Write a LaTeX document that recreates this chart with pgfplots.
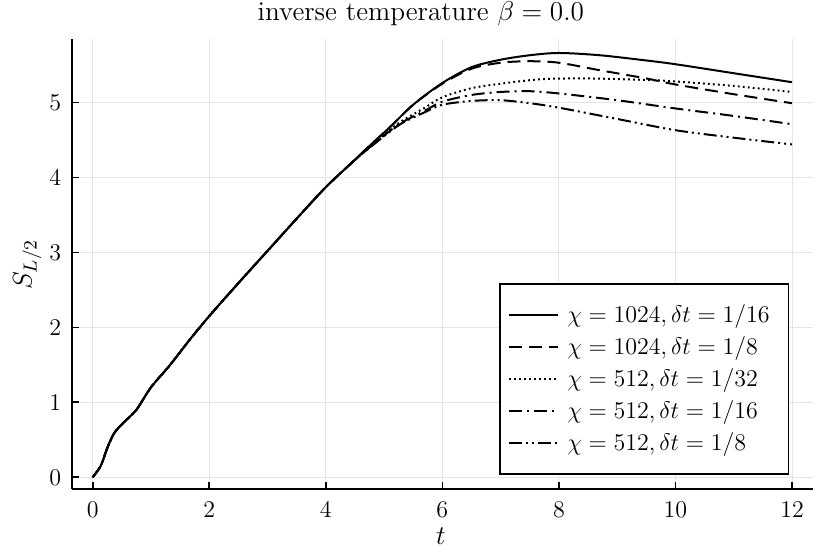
\RequirePackage{fix-cm}
\documentclass[border=0pt]{standalone}
\usepackage{pgfplots}
\pgfplotsset{compat=1.18}
\begin{document}
\begin{tikzpicture}
\begin{axis}[
  name=ax,
  scale only axis,
  width=370.65pt, height=224.9pt,
  xmin=-0.36, xmax=12.36, ymin=-0.16, ymax=5.84,
  axis x line*=bottom, axis y line*=left,
  axis line style={line width=0.85pt, black},
  xtick={0,2,4,6,8,10,12}, ytick={0,1,2,3,4,5},
  tick align=inside, major tick length=3.5pt,
  tick style={line width=0.85pt, black},
  grid=major, grid style={line width=0.5pt, black!10},
  tick label style={font=\fontsize{12}{14}\selectfont},
  xticklabel style={yshift=-2.9pt},
  yticklabel style={xshift=-1.8pt},
  title={inverse temperature $\beta = 0.0$},
  every axis title/.style={font=\fontsize{13.6}{16}\selectfont, at={(axis description cs:0.471,1)}, anchor=base, yshift=9.4pt},
  xlabel={$t$},
  every axis x label/.style={font=\fontsize{13.5}{16}\selectfont, at={(axis description cs:0.498,0)}, anchor=base, yshift=-27.4pt},
  ylabel={$S_{L/2}$},
  every axis y label/.style={font=\fontsize{13.5}{16}\selectfont, at={(axis description cs:0,0.5)}, xshift=-20pt, rotate=90, anchor=base},
  legend cell align=left,
  legend image code/.code={\draw[#1] (0pt,0pt) -- (24.3pt,0pt);},
  legend style={at={(0.968,0.032)}, anchor=south east, draw=black, line width=0.8pt,
    inner xsep=4pt, inner ysep=7.5pt, row sep=0pt, column sep=4.35pt,
    font=\fontsize{12}{14}\selectfont,
    nodes={inner sep=0pt, text height=11.9pt, text depth=4.1pt, text width=106.6pt}},
  no markers,
  every axis plot/.append style={line width=1pt, black, smooth, tension=0.5},
]
\addplot[black, solid] coordinates {(0,0) (0.14,0.155) (0.25,0.39) (0.37,0.59) (0.53,0.73) (0.75,0.90) (1.0,1.20) (1.33,1.50) (1.66,1.83) (2.0,2.15) (2.5,2.59) (3.0,3.02) (3.5,3.45) (4.0,3.87) (4.41,4.17) (4.75,4.42) (5.1,4.67) (5.5,4.97) (6.0,5.26) (6.5,5.47) (7.0,5.57) (7.5,5.63) (8.0,5.66) (8.7,5.63) (9.5,5.56) (10.0,5.51) (11.0,5.39) (12.0,5.27)};
\addlegendentry{$\chi = 1024, \delta t = 1/16$}
\addplot[black, dash pattern=on 6.5pt off 3.5pt] coordinates {(0,0) (0.14,0.155) (0.25,0.39) (0.37,0.59) (0.53,0.73) (0.75,0.90) (1.0,1.20) (1.33,1.50) (1.66,1.83) (2.0,2.15) (2.5,2.59) (3.0,3.02) (3.5,3.45) (4.0,3.87) (4.41,4.17) (4.75,4.42) (5.1,4.67) (5.5,4.97) (6.0,5.25) (6.5,5.45) (7.0,5.53) (7.5,5.55) (8.0,5.53) (8.7,5.43) (9.5,5.32) (10.0,5.24) (11.0,5.11) (12.0,4.99)};
\addlegendentry{$\chi = 1024, \delta t = 1/8$}
\addplot[black, dash pattern=on 0.9pt off 1.6pt] coordinates {(0,0) (0.14,0.155) (0.25,0.39) (0.37,0.59) (0.53,0.73) (0.75,0.90) (1.0,1.20) (1.33,1.50) (1.66,1.83) (2.0,2.15) (2.5,2.59) (3.0,3.02) (3.5,3.45) (4.0,3.87) (4.41,4.17) (4.6,4.30) (5.0,4.57) (5.3,4.75) (5.7,4.93) (6.0,5.07) (6.5,5.19) (7.0,5.25) (7.7,5.31) (8.5,5.32) (9.5,5.30) (10.0,5.28) (11.0,5.22) (12.0,5.14)};
\addlegendentry{$\chi = 512, \delta t = 1/32$}
\addplot[black, dash pattern=on 6.5pt off 2.5pt on 1pt off 2.5pt] coordinates {(0,0) (0.14,0.155) (0.25,0.39) (0.37,0.59) (0.53,0.73) (0.75,0.90) (1.0,1.20) (1.33,1.50) (1.66,1.83) (2.0,2.15) (2.5,2.59) (3.0,3.02) (3.5,3.45) (4.0,3.87) (4.41,4.17) (4.6,4.30) (5.0,4.56) (5.3,4.73) (5.7,4.89) (6.0,5.01) (6.5,5.10) (7.0,5.14) (7.5,5.15) (8.0,5.12) (9.0,5.03) (10.0,4.92) (11.0,4.82) (12.0,4.71)};
\addlegendentry{$\chi = 512, \delta t = 1/16$}
\addplot[black, dash pattern=on 6.5pt off 2pt on 1pt off 2pt on 1pt off 2pt] coordinates {(0,0) (0.14,0.155) (0.25,0.39) (0.37,0.59) (0.53,0.73) (0.75,0.90) (1.0,1.20) (1.33,1.50) (1.66,1.83) (2.0,2.15) (2.5,2.59) (3.0,3.02) (3.5,3.45) (4.0,3.87) (4.41,4.17) (4.6,4.30) (5.0,4.55) (5.3,4.72) (5.7,4.87) (6.0,4.97) (6.5,5.02) (7.0,5.03) (7.5,4.99) (8.0,4.93) (9.0,4.78) (10.0,4.63) (11.0,4.53) (12.0,4.44)};
\addlegendentry{$\chi = 512, \delta t = 1/8$}
\end{axis}
\pgfresetboundingbox
\path[use as bounding box] ([xshift=-35.85pt,yshift=-32.35pt]ax.south west) rectangle ([xshift=8.5pt,yshift=19.75pt]ax.north east);
\end{tikzpicture}
\end{document}
